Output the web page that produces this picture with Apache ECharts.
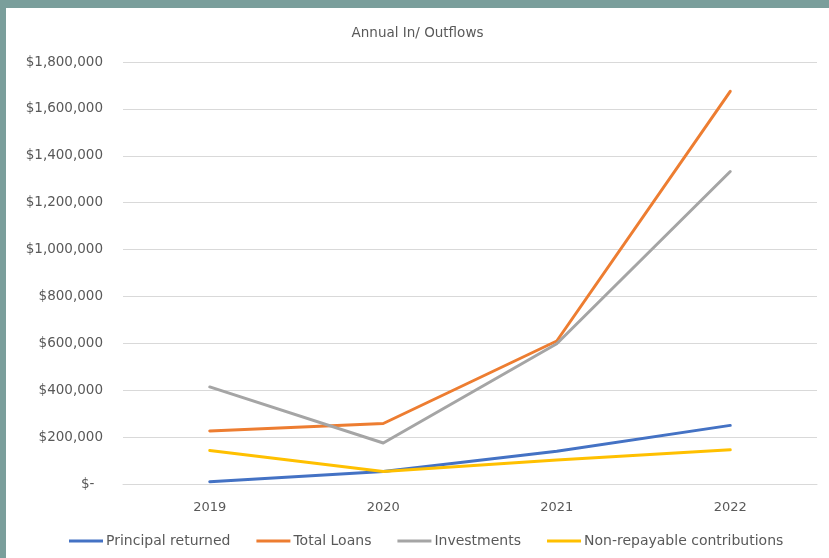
<!DOCTYPE html>
<html>
<head>
<meta charset="utf-8">
<script src="https://cdn.jsdelivr.net/npm/echarts@6/dist/echarts.min.js"></script>
<style>
  html, body { margin: 0; padding: 0; width: 829px; height: 558px; background: #7a9e9b; overflow: hidden; }
  #chart { position: absolute; left: 6px; top: 8px; width: 823px; height: 550px; background: #ffffff; }
</style>
</head>
<body>
<div id="chart"></div>
<script>
const titleText = 'Annual In/ Outflows';
const years = ['2019', '2020', '2021', '2022'];
const principalReturned = [10000, 53000, 140000, 250000];
const totalLoans = [226000, 258000, 610000, 1675000];
const investments = [414000, 175000, 598000, 1333000];
const nonRepayable = [143000, 53000, 102000, 146000];
const seriesNames = ['Principal returned', 'Total Loans', 'Investments', 'Non-repayable contributions'];
const seriesColors = ['#4472c4', '#ed7d31', '#a5a5a5', '#ffc000'];
const yMin = 0, yMax = 1800000, yStep = 200000;

const FONT = 'DejaVu Sans';
const TXT = '#595959';

function fmt(v) {
  if (v === 0) return '$-  ';
  return '$' + v.toLocaleString('en-US');
}

const chart = echarts.init(document.getElementById('chart'), null, { renderer: 'canvas' });
const allData = [principalReturned, totalLoans, investments, nonRepayable];

chart.setOption({
  animation: false,
  title: {
    text: titleText,
    left: 'center',
    top: 13,
    textStyle: { fontFamily: FONT, fontSize: 13.5, fontWeight: 'normal', color: TXT }
  },
  legend: {
    data: seriesNames,
    top: 521,
    left: 58,
    icon: 'rect',
    itemWidth: 34,
    itemHeight: 3,
    itemGap: 26,
    textStyle: { fontFamily: FONT, fontSize: 14, color: TXT, padding: [0, 0, 0, -2] }
  },
  grid: { left: 117, right: 12, top: 54, bottom: 74, containLabel: false },
  xAxis: {
    type: 'category',
    data: years,
    boundaryGap: true,
    axisLine: { show: true, lineStyle: { color: '#d9d9d9', width: 1 } },
    axisTick: { show: false },
    axisLabel: { fontFamily: FONT, fontSize: 13, color: TXT, margin: 17 }
  },
  yAxis: {
    type: 'value',
    min: yMin,
    max: yMax,
    interval: yStep,
    axisLine: { show: false },
    axisTick: { show: false },
    splitLine: { lineStyle: { color: '#d9d9d9', width: 1 } },
    axisLabel: { fontFamily: FONT, fontSize: 13.5, color: TXT, margin: 20, formatter: fmt }
  },
  series: seriesNames.map((name, i) => ({
    name: name,
    type: 'line',
    data: allData[i],
    symbol: 'none',
    smooth: false,
    lineStyle: { color: seriesColors[i], width: 3, cap: 'round', join: 'round' },
    itemStyle: { color: seriesColors[i] }
  }))
});
</script>
</body>
</html>
